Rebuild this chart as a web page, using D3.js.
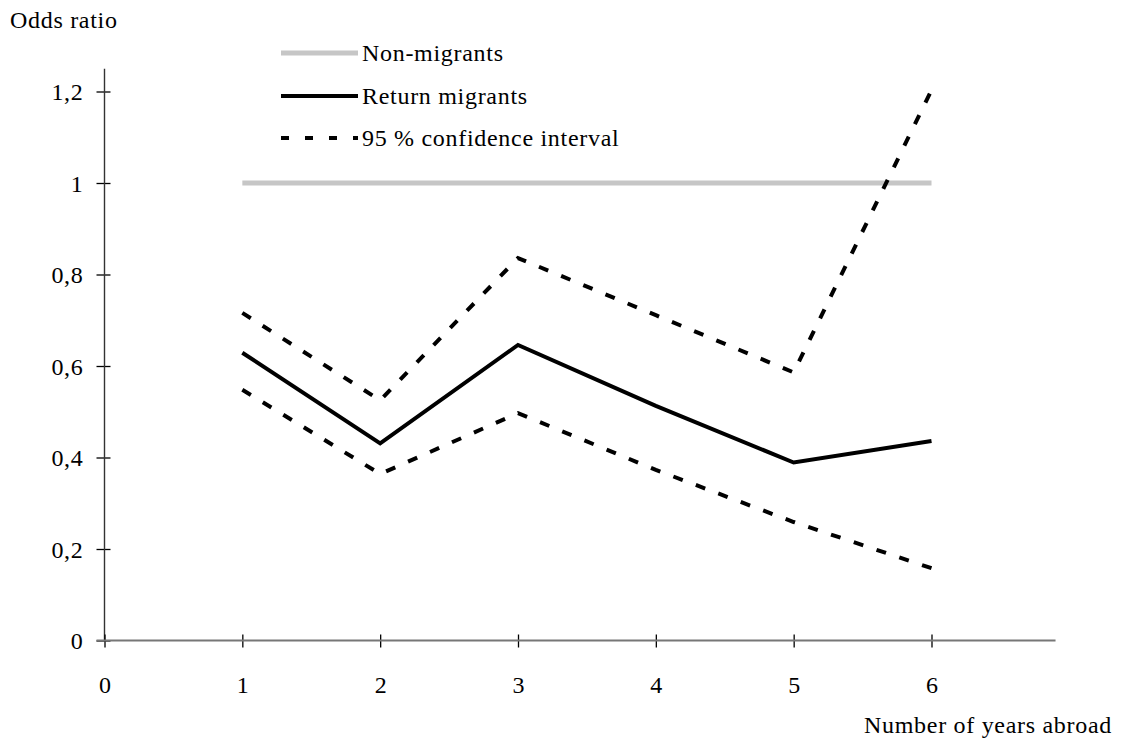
<!DOCTYPE html>
<html>
<head>
<meta charset="utf-8">
<script src="https://cdn.jsdelivr.net/npm/d3@7"></script>
<style>
  html, body { margin: 0; padding: 0; background: #fff; }
</style>
</head>
<body>
<svg id="chart" width="1125" height="742"></svg>
<script>
// ---- data ----
const years = [1, 2, 3, 4, 5, 6];
const nonMigrants = [1, 1, 1, 1, 1, 1];
const returnMigrants = [0.629, 0.431, 0.646, 0.513, 0.389, 0.436];
const ciUpper = [0.716, 0.525, 0.836, 0.711, 0.586, 1.203];
const ciLower = [0.548, 0.364, 0.497, 0.373, 0.259, 0.158];
const xTicks = [0, 1, 2, 3, 4, 5, 6];
const yTicks = [0, 0.2, 0.4, 0.6, 0.8, 1, 1.2];
const legendLabels = ["Non-migrants", "Return migrants", "95 % confidence interval"];

// ---- layout ----
const FONT = "'Liberation Serif', 'Times New Roman', Times, 'Nimbus Roman', 'DejaVu Serif', serif";
const svg = d3.select("#chart");
const x = d3.scaleLinear().domain([0, 6]).range([104.5, 931.5]);
const y = d3.scaleLinear().domain([0, 1.2]).range([640.5, 91.5]);
const xEnd = 6.9;
const yEnd = 1.25;
const fmt = d => String(d).replace(".", ",");

const FS = 24, LS = 0.7;
const styleText = sel => sel.attr("font-family", FONT).style("font-family", FONT)
  .style("font-size", FS + "px").style("letter-spacing", LS + "px").attr("fill", "#000");

// y axis
const yAxis = d3.axisLeft(y).tickValues(yTicks).tickSize(0).tickFormat(fmt);
const gy = svg.append("g").attr("transform", `translate(${x(0)},0)`).call(yAxis);
gy.attr("font-family", FONT);
gy.select(".domain").remove();
gy.selectAll(".tick text").attr("x", -21).attr("dy", "0.34em").call(styleText);
gy.selectAll(".tick").append("line").attr("x1", -8).attr("x2", 6)
  .attr("stroke", "#000").attr("stroke-width", 1.3);
svg.append("line").attr("x1", x(0)).attr("x2", x(0)).attr("y1", y(0)).attr("y2", y(yEnd))
  .attr("stroke", "#333").attr("stroke-width", 1.4);

// x axis
const xAxis = d3.axisBottom(x).tickValues(xTicks).tickSize(0).tickFormat(d => d);
const gx = svg.append("g").attr("transform", `translate(0,${y(0)})`).call(xAxis);
gx.attr("font-family", FONT);
gx.select(".domain").remove();
gx.selectAll(".tick text").attr("y", 44).attr("dy", "0.34em").call(styleText).style("letter-spacing", "0px");
gx.selectAll(".tick").append("line").attr("y1", -6).attr("y2", 7)
  .attr("stroke", "#000").attr("stroke-width", 1.3);
svg.append("line").attr("x1", x(0) - 8).attr("x2", x(xEnd)).attr("y1", y(0)).attr("y2", y(0))
  .attr("stroke", "#777").attr("stroke-width", 1.8);

// titles
svg.append("text").attr("x", 10).attr("y", 28).text("Odds ratio").call(styleText);
svg.append("text").attr("x", 1112).attr("y", 733).attr("text-anchor", "end")
  .text("Number of years abroad").call(styleText);

// lines
const line = vals => d3.line().x((d, i) => x(years[i])).y(d => y(d))(vals);

svg.append("path").attr("d", line(nonMigrants)).attr("fill", "none")
  .attr("stroke", "#c6c6c6").attr("stroke-width", 5);
svg.append("path").attr("d", line(ciUpper)).attr("fill", "none")
  .attr("stroke", "#000").attr("stroke-width", 4).attr("stroke-dasharray", "10,14");
svg.append("path").attr("d", line(ciLower)).attr("fill", "none")
  .attr("stroke", "#000").attr("stroke-width", 4).attr("stroke-dasharray", "10,14");
svg.append("path").attr("d", line(returnMigrants)).attr("fill", "none")
  .attr("stroke", "#000").attr("stroke-width", 4);

// legend
const legendY = [53, 96, 138];
const styles = [
  { stroke: "#c6c6c6", w: 5, dash: null },
  { stroke: "#000", w: 4, dash: null },
  { stroke: "#000", w: 4, dash: "8,16" }
];
const lg = svg.append("g");
legendLabels.forEach((lab, i) => {
  lg.append("line").attr("x1", 281).attr("x2", 358).attr("y1", legendY[i]).attr("y2", legendY[i])
    .attr("stroke", styles[i].stroke).attr("stroke-width", styles[i].w)
    .attr("stroke-dasharray", styles[i].dash);
  lg.append("text").attr("x", 362).attr("y", legendY[i] + 8).text(lab).call(styleText);
});
</script>
</body>
</html>
